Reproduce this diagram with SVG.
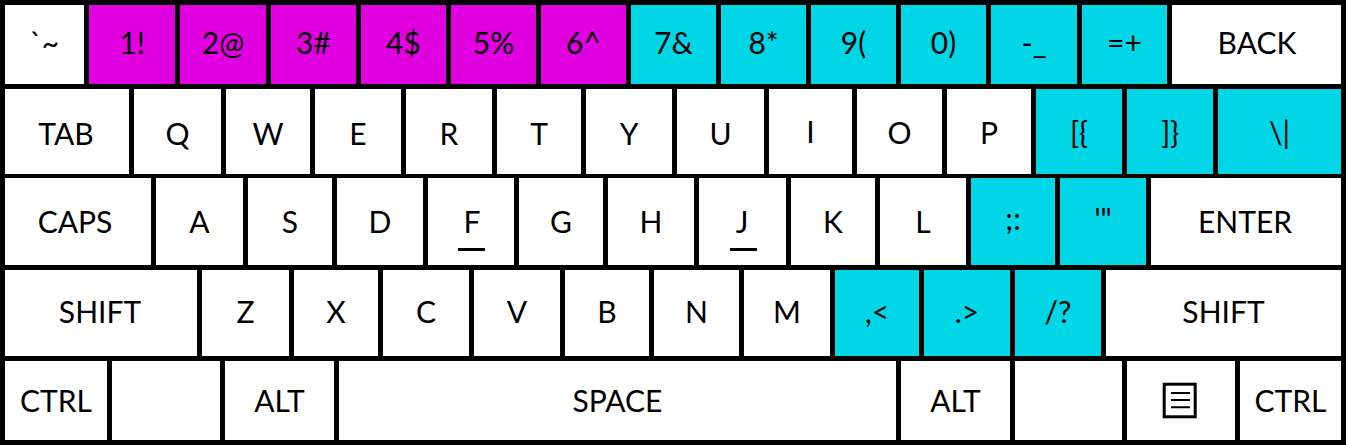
<svg xmlns="http://www.w3.org/2000/svg" width="1346" height="445" viewBox="0 0 1346 445">
<style>
.k{fill:#ffffff}
.m{fill:#e000e0}
.c{fill:#00d6e6}
text{font-family:Lato,"Open Sans","Liberation Sans",sans-serif;font-size:30px;fill:#000;text-anchor:middle}
.r1{}
</style>
<rect x="0" y="0" width="1346" height="445" fill="#000"/>
<g id="row1">
<g id="key-tilde"><rect class="k" x="5" y="5" width="79" height="79"/><text x="44.5" y="54">`~</text></g>
<g id="key-1"><rect class="m" x="89" y="5" width="86" height="79"/><text x="132" y="54">1!</text></g>
<g id="key-2"><rect class="m" x="180" y="5" width="86" height="79"/><text x="223" y="54">2@</text></g>
<g id="key-3"><rect class="m" x="271" y="5" width="85" height="79"/><text x="313.5" y="54">3#</text></g>
<g id="key-4"><rect class="m" x="361" y="5" width="85" height="79"/><text x="403.5" y="54">4$</text></g>
<g id="key-5"><rect class="m" x="451" y="5" width="85" height="79"/><text x="493.5" y="54">5%</text></g>
<g id="key-6"><rect class="m" x="541" y="5" width="85" height="79"/><text x="583.5" y="54">6^</text></g>
<g id="key-7"><rect class="c" x="631" y="5" width="85" height="79"/><text x="673.5" y="54">7&amp;</text></g>
<g id="key-8"><rect class="c" x="721" y="5" width="85" height="79"/><text x="763.5" y="54">8*</text></g>
<g id="key-9"><rect class="c" x="811" y="5" width="85" height="79"/><text x="853.5" y="54">9(</text></g>
<g id="key-0"><rect class="c" x="901" y="5" width="85" height="79"/><text x="943.5" y="54">0)</text></g>
<g id="key-minus"><rect class="c" x="991" y="5" width="86" height="79"/><text x="1034" y="54">-_</text></g>
<g id="key-equal"><rect class="c" x="1082" y="5" width="85" height="79"/><text x="1124.5" y="54">=+</text></g>
<g id="key-back"><rect class="k" x="1172" y="5" width="169" height="79"/><text x="1257" y="54">BACK</text></g>
</g>
<g id="row2">
<g id="key-tab"><rect class="k" x="5" y="89" width="124" height="85"/><text x="66" y="145">TAB</text></g>
<g id="key-q"><rect class="k" x="134" y="89" width="87" height="85"/><text x="177.5" y="145">Q</text></g>
<g id="key-w"><rect class="k" x="226" y="89" width="84" height="85"/><text x="268" y="145">W</text></g>
<g id="key-e"><rect class="k" x="315" y="89" width="86" height="85"/><text x="358" y="145">E</text></g>
<g id="key-r"><rect class="k" x="406" y="89" width="86" height="85"/><text x="449" y="145">R</text></g>
<g id="key-t"><rect class="k" x="497" y="89" width="84" height="85"/><text x="539" y="145">T</text></g>
<g id="key-y"><rect class="k" x="586" y="89" width="86" height="85"/><text x="629" y="145">Y</text></g>
<g id="key-u"><rect class="k" x="677" y="89" width="87" height="85"/><text x="720.5" y="145">U</text></g>
<g id="key-i"><rect class="k" x="769" y="89" width="83" height="85"/><text x="810.5" y="143">I</text></g>
<g id="key-o"><rect class="k" x="857" y="89" width="85" height="85"/><text x="899.5" y="144">O</text></g>
<g id="key-p"><rect class="k" x="947" y="89" width="84" height="85"/><text x="989" y="144">P</text></g>
<g id="key-lbracket"><rect class="c" x="1036" y="89" width="86" height="85"/><text x="1079" y="144">[{</text></g>
<g id="key-rbracket"><rect class="c" x="1127" y="89" width="86" height="85"/><text x="1170" y="144">]}</text></g>
<g id="key-backslash"><rect class="c" x="1218" y="89" width="123" height="85"/><text x="1279.5" y="144">\|</text></g>
</g>
<g id="row3">
<g id="key-caps"><rect class="k" x="5" y="178" width="146" height="87"/><text x="75" y="233">CAPS</text></g>
<g id="key-a"><rect class="k" x="156" y="178" width="87" height="87"/><text x="199.5" y="233">A</text></g>
<g id="key-s"><rect class="k" x="248" y="178" width="84" height="87"/><text x="290" y="233">S</text></g>
<g id="key-d"><rect class="k" x="337" y="178" width="86" height="87"/><text x="380" y="233">D</text></g>
<g id="key-f"><rect class="k" x="428" y="178" width="86" height="87"/><text x="472" y="233">F</text><rect x="458" y="248" width="27" height="3" fill="#000"/></g>
<g id="key-g"><rect class="k" x="519" y="178" width="84" height="87"/><text x="561" y="233">G</text></g>
<g id="key-h"><rect class="k" x="608" y="178" width="86" height="87"/><text x="651" y="233">H</text></g>
<g id="key-j"><rect class="k" x="699" y="178" width="87" height="87"/><text x="742" y="233">J</text><rect x="730" y="248" width="27" height="3" fill="#000"/></g>
<g id="key-k"><rect class="k" x="791" y="178" width="84" height="87"/><text x="833" y="233">K</text></g>
<g id="key-l"><rect class="k" x="880" y="178" width="86" height="87"/><text x="923" y="233">L</text></g>
<g id="key-semicolon"><rect class="c" x="971" y="178" width="84" height="87"/><text x="1013" y="230">;:</text></g>
<g id="key-quote"><rect class="c" x="1060" y="178" width="86" height="87"/><text x="1103" y="230">'"</text></g>
<g id="key-enter"><rect class="k" x="1151" y="178" width="190" height="87"/><text x="1245" y="233">ENTER</text></g>
</g>
<g id="row4">
<g id="key-lshift"><rect class="k" x="5" y="270" width="192" height="86"/><text x="100" y="323">SHIFT</text></g>
<g id="key-z"><rect class="k" x="202" y="270" width="87" height="86"/><text x="245.5" y="323">Z</text></g>
<g id="key-x"><rect class="k" x="294" y="270" width="84" height="86"/><text x="336" y="323">X</text></g>
<g id="key-c"><rect class="k" x="383" y="270" width="86" height="86"/><text x="426" y="323">C</text></g>
<g id="key-v"><rect class="k" x="474" y="270" width="86" height="86"/><text x="517" y="323">V</text></g>
<g id="key-b"><rect class="k" x="565" y="270" width="84" height="86"/><text x="607" y="323">B</text></g>
<g id="key-n"><rect class="k" x="654" y="270" width="85" height="86"/><text x="696.5" y="323">N</text></g>
<g id="key-m"><rect class="k" x="744" y="270" width="86" height="86"/><text x="787" y="323">M</text></g>
<g id="key-comma"><rect class="c" x="835" y="270" width="84" height="86"/><text x="877" y="323">,&lt;</text></g>
<g id="key-period"><rect class="c" x="924" y="270" width="86" height="86"/><text x="967" y="323">.&gt;</text></g>
<g id="key-slash"><rect class="c" x="1015" y="270" width="86" height="86"/><text x="1058" y="323">/?</text></g>
<g id="key-rshift"><rect class="k" x="1106" y="270" width="235" height="86"/><text x="1223.5" y="323">SHIFT</text></g>
</g>
<g id="row5">
<g id="key-lctrl"><rect class="k" x="5" y="361" width="102" height="79"/><text x="56" y="412">CTRL</text></g>
<g id="key-lwin"><rect class="k" x="112" y="361" width="108" height="79"/></g>
<g id="key-lalt"><rect class="k" x="225" y="361" width="109" height="79"/><text x="279.5" y="412">ALT</text></g>
<g id="key-space"><rect class="k" x="339" y="361" width="557" height="79"/><text x="617.5" y="412">SPACE</text></g>
<g id="key-ralt"><rect class="k" x="901" y="361" width="109" height="79"/><text x="955.5" y="412">ALT</text></g>
<g id="key-rwin"><rect class="k" x="1015" y="361" width="107" height="79"/></g>
<g id="key-menu"><rect class="k" x="1127" y="361" width="108" height="79"/><rect x="1164.2" y="384.2" width="31" height="32.6" fill="none" stroke="#000" stroke-width="3"/><path d="M1171 393H1190M1171 400H1190M1171 407.3H1190" stroke="#000" stroke-width="2" fill="none"/></g>
<g id="key-rctrl"><rect class="k" x="1240" y="361" width="101" height="79"/><text x="1290.5" y="412">CTRL</text></g>
</g>
<g id="connectors"></g>
</svg>
